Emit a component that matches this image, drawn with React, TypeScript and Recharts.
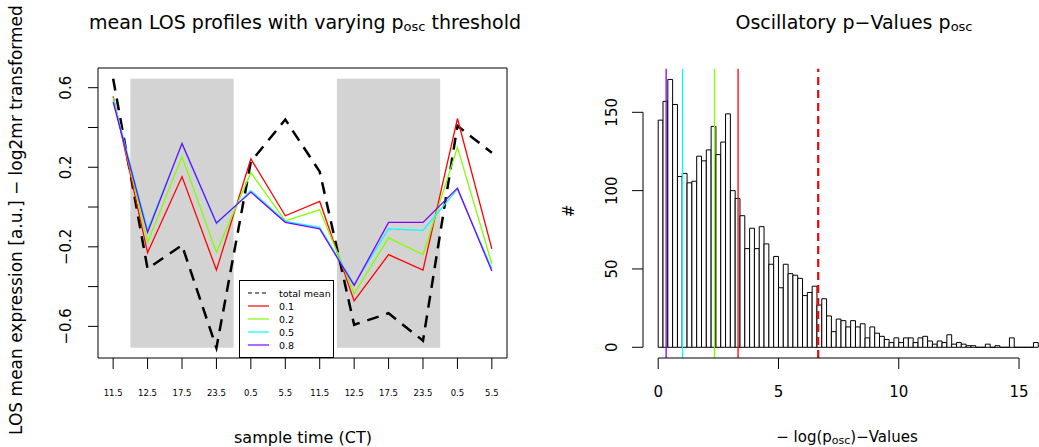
import React from 'react';
import { ComposedChart, Line, Bar, XAxis, YAxis, ReferenceArea, ReferenceLine, Legend } from 'recharts';

// left panel: mean LOS profiles
const sampleTimes = ['11.5', '12.5', '17.5', '23.5', '0.5', '5.5', '11.5', '12.5', '17.5', '23.5', '0.5', '5.5'];
const totalMean = [0.645, -0.31, -0.192, -0.708, 0.228, 0.44, 0.178, -0.592, -0.534, -0.672, 0.408, 0.273];
const thr01 = [0.556, -0.23, 0.153, -0.317, 0.242, -0.044, 0.028, -0.472, -0.239, -0.317, 0.445, -0.21];
const thr02 = [0.55, -0.177, 0.253, -0.227, 0.173, -0.069, -0.014, -0.435, -0.155, -0.239, 0.3, -0.285];
const thr05 = [0.54, -0.114, 0.317, -0.085, 0.083, -0.072, -0.102, -0.389, -0.11, -0.117, 0.09, -0.31];
const thr08 = [0.528, -0.127, 0.32, -0.08, 0.075, -0.077, -0.11, -0.394, -0.077, -0.077, 0.095, -0.322];
const nightSpans = [[0.5, 3.5], [6.5, 9.5]];

// right panel: histogram of -log(p_osc), bins of 0.2 starting at 0
const binWidth = 0.2;
const histCounts = [
  145, 157, 171, 155, 109, 111, 105, 106, 122, 119, 126, 141, 123, 131, 149, 100, 95, 84, 63, 76, 63, 77,
  66, 53, 58, 38, 53, 47, 46, 44, 33, 35, 39, 27, 31, 20, 10, 18, 17, 13, 17, 13, 15, 6,
  13, 9, 7, 5, 3, 6, 3, 6, 6, 3, 6, 7, 4, 2, 4, 3, 8, 2, 3, 2, 1, 1, 0, 0, 2, 0, 1, 0, 0, 6, 0, 0, 0, 0, 3,
];
const thresholdCuts = [0.33, 1.01, 2.34, 3.32];
const thresholdLabels = ['0.1', '0.2', '0.5', '0.8'];
const thresholdColors = ['#FF0000', '#80FF00', '#00FFFF', '#8000FF'];
const cutColors = ['#8000FF', '#00FFFF', '#80FF00', '#FF0000'];
const globalCut = 6.65;

const W = 1039;
const H = 447;
const FONT = '"DejaVu Sans", sans-serif';

const lxDomain: [number, number] = [-0.44, 11.44];
const lyDomain: [number, number] = [-0.759, 0.699];
const rxDomain: [number, number] = [-0.632, 15.83];
const ryDomain: [number, number] = [-6.84, 177.84];
const rPlot = { left: 643, right: 1039 };
const binPx = ((rPlot.right - rPlot.left) * binWidth) / (rxDomain[1] - rxDomain[0]);

const profileRows = sampleTimes.map((t, i) => ({
  idx: i,
  total: totalMean[i],
  t01: thr01[i],
  t02: thr02[i],
  t05: thr05[i],
  t08: thr08[i],
}));

const histRows = histCounts.map((c, k) => ({ mid: k * binWidth + binWidth / 2, count: c }));

const boxTop = Math.max(...totalMean);
const boxBottom = Math.min(...totalMean);

const LeftXTick = (props: any) => {
  const { x, payload } = props;
  return (
    <text x={x} y={393} textAnchor="middle" dominantBaseline="central" fontSize={8.5} fontFamily={FONT} fill="#000">
      {sampleTimes[payload.value]}
    </text>
  );
};

const LeftYTick = (props: any) => {
  const { y, payload } = props;
  const v = Math.round(payload.value * 10) / 10;
  if (![0.6, 0.2, -0.2, -0.6].includes(v)) return <g />;
  const label = v < 0 ? '\u2212' + Math.abs(v).toFixed(1) : v.toFixed(1);
  return (
    <text x={66} y={y} transform={`rotate(-90 66 ${y})`} textAnchor="middle" dominantBaseline="central" fontSize={15} fontFamily={FONT} fill="#000">
      {label}
    </text>
  );
};

const RightXTick = (props: any) => {
  const { x, payload } = props;
  return (
    <text x={x} y={392} textAnchor="middle" dominantBaseline="central" fontSize={15} fontFamily={FONT} fill="#000">
      {payload.value}
    </text>
  );
};

const RightYTick = (props: any) => {
  const { y, payload } = props;
  return (
    <text x={612} y={y} transform={`rotate(-90 612 ${y})`} textAnchor="middle" dominantBaseline="central" fontSize={15} fontFamily={FONT} fill="#000">
      {payload.value}
    </text>
  );
};

// outlined bin; empty bins still leave a stroke on the baseline, like R's hist
const HistRect = (props: any) => {
  const { x, y, height } = props;
  const h = Math.abs(height || 0);
  const top = height < 0 ? y + height : y;
  const d = `M${x},${top + h}V${top}H${x + binPx}V${top + h}Z`;
  return <path d={d} fill="#fff" stroke="#000" strokeWidth={1} />;
};

const LegendBox = () => {
  const rows = [{ label: 'total mean', color: '#000', dash: '4 3' }].concat(
    thresholdLabels.map((l, i) => ({ label: l, color: thresholdColors[i], dash: '' }))
  );
  return (
    <svg width={95} height={78} style={{ display: 'block' }}>
      <rect x={0.5} y={0.5} width={94} height={77} fill="#fff" stroke="#000" />
      {rows.map((r, i) => (
        <g key={r.label}>
          <line x1={9} x2={30} y1={13 + i * 13} y2={13 + i * 13} stroke={r.color} strokeWidth={1.2} strokeDasharray={r.dash || undefined} />
          <text x={40} y={13 + i * 13} dominantBaseline="central" fontSize={9.5} fontFamily={FONT} fill="#000">
            {r.label}
          </text>
        </g>
      ))}
    </svg>
  );
};

export default function App() {
  return (
    <div style={{ position: 'absolute', left: 0, top: 0, width: W, height: H, background: '#fff', overflow: 'hidden', fontFamily: FONT }}>
      <div style={{ position: 'absolute', left: 0, top: 0 }}>
        <ComposedChart width={W} height={H} data={profileRows} margin={{ top: 48, right: W - 507 - 20, bottom: H - 358 - 40, left: 98 - 40 }}>
          <XAxis
            type="number"
            dataKey="idx"
            domain={lxDomain}
            ticks={sampleTimes.map((_, i) => i)}
            height={40}
            stroke="#000"
            tickLine={{ stroke: '#000' }}
            tickSize={11}
            tick={<LeftXTick />}
            interval={0}
          />
          <XAxis xAxisId="frameTop" orientation="top" type="number" dataKey="idx" domain={lxDomain} height={20} tick={false} tickLine={false} stroke="#000" />
          <YAxis
            type="number"
            domain={lyDomain}
            ticks={[-0.6, -0.4, -0.2, 0, 0.2, 0.4, 0.6]}
            width={40}
            stroke="#000"
            tickLine={{ stroke: '#000' }}
            tickSize={10}
            tick={<LeftYTick />}
            interval={0}
          />
          <YAxis yAxisId="frameRight" orientation="right" type="number" domain={lyDomain} width={20} tick={false} tickLine={false} stroke="#000" />
          {nightSpans.map(([a, b]) => (
            <ReferenceArea key={a} x1={a} x2={b} y1={boxBottom} y2={boxTop} fill="#D3D3D3" fillOpacity={1} stroke="none" />
          ))}
          <Line type="linear" dataKey="total" stroke="#000" strokeWidth={2.5} strokeDasharray="12 8" dot={false} isAnimationActive={false} />
          <Line type="linear" dataKey="t01" stroke={thresholdColors[0]} strokeWidth={1.3} dot={false} isAnimationActive={false} />
          <Line type="linear" dataKey="t02" stroke={thresholdColors[1]} strokeWidth={1.3} dot={false} isAnimationActive={false} />
          <Line type="linear" dataKey="t05" stroke={thresholdColors[2]} strokeWidth={1.3} dot={false} isAnimationActive={false} />
          <Line type="linear" dataKey="t08" stroke={thresholdColors[3]} strokeWidth={1.3} dot={false} isAnimationActive={false} />
          <Legend
            layout="vertical"
            align="center"
            verticalAlign="middle"
            content={() => <LegendBox />}
            wrapperStyle={{ position: 'absolute', left: 239, top: 280, width: 95, height: 78 }}
          />
        </ComposedChart>
      </div>

      <div style={{ position: 'absolute', left: 0, top: 0 }}>
        <ComposedChart
          width={W}
          height={H}
          data={histRows}
          margin={{ top: 68.7, right: W - rPlot.right, bottom: H - 358 - 40, left: rPlot.left - 40 }}
          barCategoryGap={0}
          barGap={0}
        >
          <XAxis
            type="number"
            dataKey="mid"
            domain={rxDomain}
            ticks={[0, 5, 10, 15]}
            height={40}
            axisLine={false}
            tickLine={{ stroke: '#000' }}
            tickSize={11}
            tick={<RightXTick />}
            interval={0}
          />
          <YAxis
            type="number"
            domain={ryDomain}
            ticks={[0, 50, 100, 150]}
            width={40}
            axisLine={false}
            tickLine={{ stroke: '#000' }}
            tickSize={11}
            tick={<RightYTick />}
            interval={0}
          />
          <Bar dataKey="count" shape={<HistRect />} isAnimationActive={false} />
          {thresholdCuts.map((c, i) => (
            <ReferenceLine key={c} x={c} stroke={cutColors[i]} strokeWidth={1.3} />
          ))}
          <ReferenceLine x={globalCut} stroke="#FF0000" strokeWidth={2.2} strokeDasharray="8 5" />
          <ReferenceLine segment={[{ x: 0, y: ryDomain[0] }, { x: 15, y: ryDomain[0] }]} stroke="#000" ifOverflow="visible" />
          <ReferenceLine segment={[{ x: rxDomain[0], y: 0 }, { x: rxDomain[0], y: 150 }]} stroke="#000" ifOverflow="visible" />
        </ComposedChart>
      </div>

      <svg width={W} height={H} style={{ position: 'absolute', left: 0, top: 0, pointerEvents: 'none' }} fontFamily={FONT}>
        <text x={305} y={22} textAnchor="middle" dominantBaseline="central" fontSize={19} fill="#000">
          mean LOS profiles with varying p
          <tspan fontSize={13} dy={4}>osc</tspan>
          <tspan dy={-4}> threshold</tspan>
        </text>
        <text x={854} y={22} textAnchor="middle" dominantBaseline="central" fontSize={19} fill="#000">
          Oscillatory p{'\u2212'}Values p
          <tspan fontSize={13} dy={4}>osc</tspan>
        </text>
        <text x={303} y={437} textAnchor="middle" dominantBaseline="central" fontSize={16} fill="#000">
          sample time (CT)
        </text>
        <text x={847} y={437} textAnchor="middle" dominantBaseline="central" fontSize={15} fill="#000">
          {'\u2212'} log(p
          <tspan fontSize={11} dy={3}>osc</tspan>
          <tspan dy={-3}>){'\u2212'}Values</tspan>
        </text>
        <text x={16} y={220} transform="rotate(-90 16 220)" textAnchor="middle" dominantBaseline="central" fontSize={17} fill="#000">
          LOS mean expression [a.u.] {'\u2212'} log2mr transformed
        </text>
        <text x={569} y={211} transform="rotate(-90 569 211)" textAnchor="middle" dominantBaseline="central" fontSize={15} fill="#000">
          #
        </text>
      </svg>
    </div>
  );
}
